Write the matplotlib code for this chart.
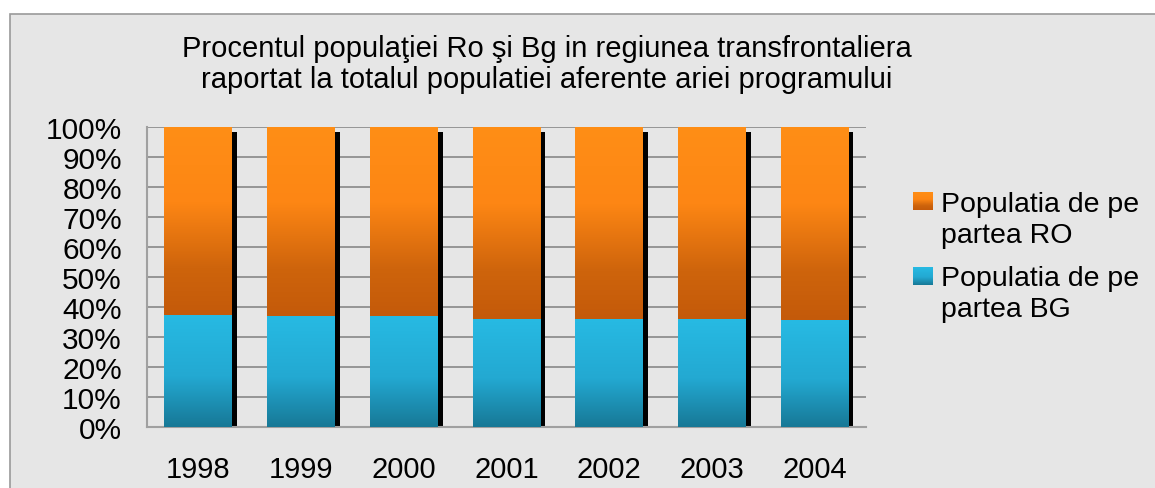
import numpy as np
import matplotlib
matplotlib.use("Agg")
import matplotlib.pyplot as plt
from matplotlib.patches import Rectangle
from matplotlib.colors import LinearSegmentedColormap

plt.rcParams['font.family'] = ['Liberation Sans', 'DejaVu Sans']

# data (percent of total population)
years = ["1998", "1999", "2000", "2001", "2002", "2003", "2004"]
bg_pct = [37.4, 37.0, 37.0, 36.1, 36.1, 36.0, 35.6]
ro_pct = [100 - v for v in bg_pct]
title = ("Procentul populaţiei Ro şi Bg in regiunea transfrontaliera\n"
         "raportat la totalul populatiei aferente ariei programului")
labels = ["Populatia de pe\npartea RO", "Populatia de pe\npartea BG"]

bg_cmap = LinearSegmentedColormap.from_list(
    "bg", [(0, "#177896"), (0.45, "#23A9D2"), (1, "#27BAE3")])
ro_cmap = LinearSegmentedColormap.from_list(
    "ro", [(0, "#C45A0A"), (0.25, "#CE640C"), (0.6, "#FD8614"), (1, "#FF8E16")])

W, H = 1155, 489
fig = plt.figure(figsize=(11.55, 4.89), dpi=100)
fig.patch.set_facecolor("white")
# grey panel with border
fig.patches.append(Rectangle((10 / W, -0.2), 1.2, 1.2 - 15 / H,
                             transform=fig.transFigure, facecolor="#E6E6E6",
                             edgecolor="#9A9A9A", lw=1.2, zorder=-10))

ax = fig.add_axes([147 / W, 61 / H, 719 / W, 300 / H])
ax.set_facecolor("#E6E6E6")

x = np.arange(len(years))
w = 0.66
bars_bg = ax.bar(x, bg_pct, w, color="none", zorder=3)
bars_ro = ax.bar(x, ro_pct, w, bottom=bg_pct, color="none", zorder=3)

grad = np.linspace(0, 1, 256).reshape(-1, 1)
for bars, cmap in [(bars_bg, bg_cmap), (bars_ro, ro_cmap)]:
    for p in bars:
        x0, y0 = p.get_x(), p.get_y()
        x1, y1 = x0 + p.get_width(), y0 + p.get_height()
        ax.imshow(grad, cmap=cmap, origin="lower", aspect="auto",
                  extent=(x0, x1, y0, y1), zorder=3, interpolation="bilinear")

# black shadow on the right of each bar
for p in bars_bg:
    ax.add_patch(Rectangle((p.get_x() + p.get_width(), 0), 0.048, 98.4,
                           facecolor="black", edgecolor="none", zorder=2))

ax.set_xlim(-0.5, len(years) - 0.5)
ax.set_ylim(0, 100)
ax.set_yticks(np.arange(0, 101, 10))
ax.set_yticklabels([f"{v}%" for v in range(0, 101, 10)], fontsize=21.5)
ax.set_xticks(x)
ax.set_xticklabels(years, fontsize=21)
ax.tick_params(axis="both", length=0)
ax.tick_params(axis="y", pad=18)
ax.tick_params(axis="x", pad=20)
ax.yaxis.grid(True, color="#888888", lw=1.2, zorder=0)
ax.set_axisbelow(True)
for s in ["top", "right"]:
    ax.spines[s].set_visible(False)
for s in ["left", "bottom"]:
    ax.spines[s].set_color("#A0A0A0")
    ax.spines[s].set_linewidth(1.5)

# title, two lines
for i, line in enumerate(title.split("\n")):
    fig.text(547 / W, 1 - (57 + 31 * i) / H, line, ha="center", va="baseline",
             fontsize=21)

# legend drawn by hand: gradient swatch next to first line of each label
for i, (lab, cmap) in enumerate(zip(labels, [ro_cmap, bg_cmap])):
    top = 193 + 75 * i
    sw = fig.add_axes([913 / W, 1 - (top + 18) / H, 20 / W, 18 / H])
    sw.imshow(grad, cmap=cmap, origin="lower", aspect="auto",
              interpolation="bilinear")
    sw.axis("off")
    for j, line in enumerate(lab.split("\n")):
        fig.text(941 / W, 1 - (212 + 74 * i + 31 * j) / H, line,
                 ha="left", va="baseline", fontsize=20.5)

fig.savefig("out.png", dpi=100)
